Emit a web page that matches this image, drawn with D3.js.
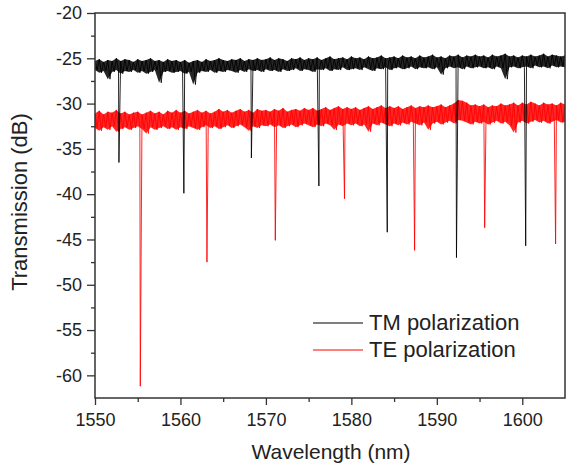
<!DOCTYPE html>
<html>
<head>
<meta charset="utf-8">
<script src="https://cdn.jsdelivr.net/npm/d3@7"></script>
<style>
	body { margin: 0; background: #fff; }
	text { font-family: 'Liberation Sans', Arial, sans-serif; fill: #222; }
</style>
</head>
<body>
<svg id="chart"></svg>
<script>
const WIDTH = 567;
const HEIGHT = 471;

// trace sampled every 0.5 nm; hi = top of noise band, lo = bottom
const WL_START = 1550;
const WL_STEP = 0.5;

const tmHi = [
	-25.3, -25.1, -25.4, -25.2, -25.3, -25.0, -25.3, -25.1, -25.2, -25.4,
	-25.1, -25.3, -25.2, -25.0, -25.3, -25.2, -25.4, -25.1, -25.3, -25.2,
	-25.4, -25.2, -25.5, -25.3, -25.2, -25.4, -25.1, -25.3, -25.2, -25.0,
	-25.2, -25.3, -25.1, -25.2, -25.0, -25.3, -25.1, -25.2, -25.0, -25.2,
	-25.1, -24.9, -25.2, -25.0, -25.1, -25.3, -25.0, -25.1, -24.9, -25.2,
	-25.0, -25.1, -24.9, -25.2, -25.0, -24.8, -25.1, -25.0, -24.9, -25.1,
	-24.8, -25.0, -24.9, -25.1, -24.8, -25.0, -24.9, -24.7, -25.0, -24.9,
	-24.8, -25.0, -24.7, -24.9, -24.8, -25.0, -24.7, -24.9, -24.8, -24.6,
	-24.9, -24.8, -25.0, -24.7, -24.8, -24.6, -24.9, -24.7, -24.8, -24.6,
	-24.8, -24.7, -24.9, -24.6, -24.8, -24.7, -24.5, -24.8, -24.7, -24.9,
	-24.7, -24.8, -24.6, -24.8, -24.7, -24.5, -24.8, -24.6, -24.7, -24.8,
	-24.7
];
const tmLo = [
	-26.3, -26.6, -26.4, -27.3, -26.5, -26.3, -26.7, -26.4, -26.5, -26.3,
	-26.6, -26.4, -26.7, -26.5, -26.3, -27.7, -26.5, -26.4, -26.6, -26.5,
	-26.4, -26.7, -26.5, -27.9, -26.6, -26.4, -26.5, -26.3, -26.6, -26.4,
	-26.5, -26.3, -26.4, -26.6, -26.3, -26.5, -26.2, -26.4, -26.3, -26.5,
	-26.2, -26.4, -26.3, -26.5, -26.2, -26.4, -26.3, -26.1, -26.4, -26.2,
	-26.3, -26.5, -26.2, -26.3, -26.1, -26.4, -26.2, -26.3, -26.0, -26.3,
	-26.2, -26.1, -26.3, -26.0, -26.2, -26.4, -26.1, -26.2, -26.0, -26.3,
	-26.1, -26.0, -26.2, -26.1, -25.9, -26.2, -26.0, -26.1, -26.0, -26.2,
	-26.0, -26.8, -26.1, -25.9, -26.1, -26.0, -26.2, -25.9, -26.1, -26.0,
	-25.9, -26.1, -26.0, -26.2, -25.9, -26.1, -27.3, -26.0, -25.9, -26.1,
	-26.0, -25.9, -26.1, -25.8, -26.0, -25.9, -26.1, -25.8, -26.0, -25.9,
	-26.0
];
const teHi = [
	-31.1, -30.8, -31.2, -30.9, -31.0, -30.7, -31.1, -30.9, -31.2, -31.0,
	-30.9, -31.2, -31.0, -30.8, -31.1, -30.9, -31.2, -30.8, -31.0, -30.7,
	-31.0, -30.8, -31.1, -30.9, -30.7, -31.0, -30.8, -31.1, -30.9, -30.6,
	-30.9, -30.7, -31.0, -30.8, -30.6, -30.9, -30.7, -31.0, -30.6, -30.8,
	-30.7, -30.9, -30.6, -30.8, -30.5, -30.9, -30.7, -30.6, -30.8, -30.5,
	-30.7, -30.5, -30.8, -30.6, -30.4, -30.7, -30.5, -30.3, -30.6, -30.4,
	-30.6, -30.4, -30.7, -30.5, -30.3, -30.6, -30.4, -30.2, -30.5, -30.3,
	-30.5, -30.3, -30.6, -30.4, -30.2, -30.5, -30.3, -30.4, -30.2, -30.4,
	-30.3, -30.1, -30.4, -30.2, -30.0, -29.6, -29.7, -29.9, -30.2, -30.1,
	-30.3, -30.1, -30.4, -30.2, -30.3, -30.0, -30.2, -30.1, -29.9, -30.2,
	-29.9, -30.1, -29.8, -30.0, -30.2, -29.9, -30.1, -30.0, -30.2, -29.9,
	-30.1
];
const teLo = [
	-32.7, -33.0, -32.6, -32.9, -32.5, -33.1, -32.8, -32.6, -32.9, -32.7,
	-32.5, -32.8, -33.3, -32.6, -32.9, -32.7, -32.5, -32.8, -32.6, -32.9,
	-32.6, -32.8, -32.5, -32.7, -32.9, -32.6, -32.4, -32.7, -32.5, -32.8,
	-32.6, -32.4, -32.7, -32.5, -32.3, -32.6, -33.0, -32.5, -32.7, -32.4,
	-32.5, -32.3, -32.6, -32.4, -32.7, -32.5, -32.3, -32.6, -32.4, -32.2,
	-32.4, -32.6, -32.3, -32.5, -32.2, -32.4, -32.9, -32.3, -32.5, -32.2,
	-32.4, -32.2, -32.5, -32.3, -33.1, -32.2, -32.4, -32.1, -32.3, -32.5,
	-32.2, -32.4, -32.1, -32.3, -32.0, -32.2, -32.4, -32.1, -32.9, -32.2,
	-32.0, -32.3, -32.1, -31.9, -32.2, -31.8, -31.9, -32.1, -32.3, -32.0,
	-32.2, -32.0, -32.3, -32.1, -31.9, -32.2, -32.0, -32.4, -33.2, -32.1,
	-31.9, -32.2, -32.0, -31.8, -32.1, -31.9, -32.2, -32.0, -31.8, -32.1,
	-32.0
];

// resonance dips
const tmDipWl = [1552.8, 1560.4, 1568.3, 1576.2, 1584.2, 1592.3, 1600.4];
const tmDipDb = [-36.5, -39.9, -36.0, -39.1, -44.2, -47.0, -45.7];
const teDipWl = [1555.3, 1563.1, 1571.1, 1579.2, 1587.4, 1595.6, 1603.9];
const teDipDb = [-61.2, -47.5, -45.1, -40.5, -46.2, -43.7, -45.5];

const xTicks = [1550, 1560, 1570, 1580, 1590, 1600];
const xMinorTicks = [1555, 1565, 1575, 1585, 1595];
const yTicks = [-20, -25, -30, -35, -40, -45, -50, -55, -60];
const yMinorTicks = [-22.5, -27.5, -32.5, -37.5, -42.5, -47.5, -52.5, -57.5];

const seriesNames = ['TM polarization', 'TE polarization'];
const seriesColors = ['#000000', '#ff0000'];

const margin = {top: 13, right: 2, bottom: 73, left: 95};

const buildTrace = (hi, lo, dipWl, dipDb) => {
	const pts = [];
	hi.forEach((h, i) => {
		const wl = WL_START + i * WL_STEP;
		pts.push({x: wl, y: h});
		pts.push({x: wl + WL_STEP / 2, y: lo[i]});
	});
	dipWl.forEach((w, i) => pts.push({x: w, y: dipDb[i]}));
	return pts.sort((a, b) => a.x - b.x);
};

const buildBand = (hi, lo) => hi.map((h, i) => ({x: WL_START + i * WL_STEP, hi: h, lo: lo[i]}));

const svg = d3.select('#chart')
	.attr('width', WIDTH)
	.attr('height', HEIGHT);

const x = d3.scaleLinear()
	.domain([1550, 1605])
	.range([margin.left, WIDTH - margin.right]);
const y = d3.scaleLinear()
	.domain([-62.5, -20])
	.range([HEIGHT - margin.bottom, margin.top]);

svg.append('clipPath')
	.attr('id', 'plot-clip')
	.append('rect')
	.attr('x', x.range()[0])
	.attr('y', y.range()[1])
	.attr('width', x.range()[1] - x.range()[0])
	.attr('height', y.range()[0] - y.range()[1]);

const line = d3.line()
	.x(d => x(d.x))
	.y(d => y(d.y));

const area = d3.area()
	.x(d => x(d.x))
	.y0(d => y(d.lo))
	.y1(d => y(d.hi));

// TE first, TM on top
const bands = [buildBand(teHi, teLo), buildBand(tmHi, tmLo)];
const traces = [
	buildTrace(teHi, teLo, teDipWl, teDipDb),
	buildTrace(tmHi, tmLo, tmDipWl, tmDipDb)
];
const traceColors = [seriesColors[1], seriesColors[0]];

const plot = svg.append('g')
	.attr('clip-path', 'url(#plot-clip)');

plot.selectAll('path.band')
	.data(bands)
	.enter()
	.append('path')
	.attr('class', 'band')
	.attr('d', area)
	.attr('fill', (d, i) => traceColors[i])
	.attr('opacity', 0.85);

plot.selectAll('path.trace')
	.data(traces)
	.enter()
	.append('path')
	.attr('class', 'trace')
	.attr('d', line)
	.attr('fill', 'none')
	.attr('stroke', (d, i) => traceColors[i])
	.attr('stroke-opacity', 0.85)
	.attr('stroke-width', 1);

// axes
const fmt = d => String(d);
const styleAxis = (g) => {
	g.select('.domain').remove();
	g.selectAll('line').attr('stroke', '#333').attr('stroke-width', 1.3);
	g.selectAll('text')
		.attr('font-size', 18)
		.attr('fill', '#222')
		.attr('font-family', "'Liberation Sans', Arial, sans-serif");
};

svg.append('g')
	.attr('transform', `translate(0,${y.range()[0]})`)
	.call(d3.axisBottom(x).tickValues(xTicks).tickSize(7).tickPadding(8).tickFormat(fmt))
	.call(styleAxis);
svg.append('g')
	.attr('transform', `translate(0,${y.range()[0]})`)
	.call(d3.axisBottom(x).tickValues(xMinorTicks).tickSize(4).tickFormat(''))
	.call(styleAxis);

svg.append('g')
	.attr('transform', `translate(${x.range()[0]},0)`)
	.call(d3.axisLeft(y).tickValues(yTicks).tickSize(8).tickPadding(5).tickFormat(fmt))
	.call(styleAxis);
svg.append('g')
	.attr('transform', `translate(${x.range()[0]},0)`)
	.call(d3.axisLeft(y).tickValues(yMinorTicks).tickSize(4).tickFormat(''))
	.call(styleAxis);

// frame
svg.append('rect')
	.attr('x', x.range()[0])
	.attr('y', y.range()[1])
	.attr('width', x.range()[1] - x.range()[0])
	.attr('height', y.range()[0] - y.range()[1])
	.attr('fill', 'none')
	.attr('stroke', '#333')
	.attr('stroke-width', 1.5);

svg.append('text')
	.attr('x', 331)
	.attr('y', 459)
	.attr('text-anchor', 'middle')
	.attr('font-size', 21)
	.text('Wavelength (nm)');

svg.append('text')
	.attr('transform', 'translate(27,202) rotate(-90)')
	.attr('text-anchor', 'middle')
	.attr('font-size', 22)
	.text('Transmission (dB)');

// legend
const legend = svg.append('g')
	.selectAll('g')
	.data(seriesNames)
	.enter()
	.append('g')
	.attr('transform', (d, i) => `translate(313,${323 + i * 27})`);

legend.append('line')
	.attr('x1', 0)
	.attr('x2', 50)
	.attr('stroke', (d, i) => seriesColors[i])
	.attr('stroke-width', 1.2);

legend.append('text')
	.attr('x', 56)
	.attr('y', 7)
	.attr('font-size', 22)
	.text(d => d);
</script>
</body>
</html>
